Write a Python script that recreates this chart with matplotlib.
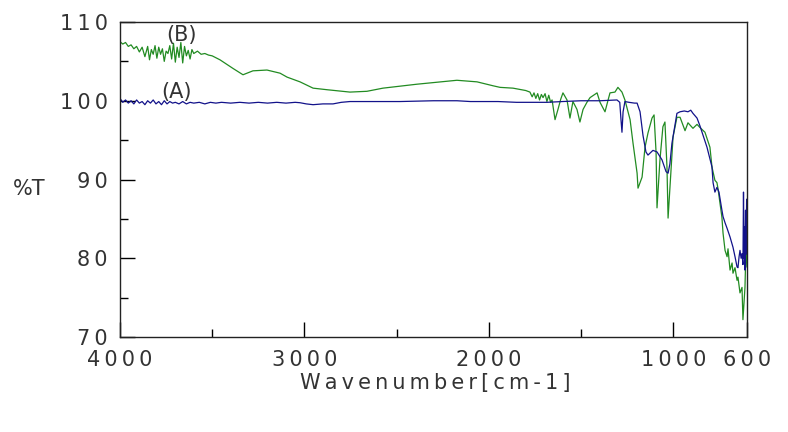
import matplotlib
matplotlib.use('Agg')
from matplotlib import pyplot as plt
from matplotlib.ticker import MultipleLocator

# spectrum (B), green
wn_b = [4000, 3985, 3970, 3955, 3940, 3925, 3910, 3895, 3880, 3865,
        3850, 3840, 3830, 3820, 3810, 3800, 3790, 3780, 3770, 3760,
        3750, 3740, 3730, 3720, 3710, 3700, 3690, 3680, 3670, 3660,
        3650, 3640, 3630, 3620, 3610, 3600, 3580, 3560, 3540, 3520,
        3500, 3458, 3387, 3333, 3279, 3203, 3132, 3094, 3024, 2953,
        2877, 2753, 2661, 2574, 2390, 2173, 2064, 1977, 1939, 1869,
        1800, 1777, 1765, 1755, 1745, 1735, 1725, 1715, 1706, 1695,
        1685, 1675, 1665, 1657, 1641, 1625, 1610, 1598, 1576, 1560,
        1544, 1522, 1506, 1489, 1468, 1451, 1413, 1397, 1370, 1343,
        1316, 1300, 1278, 1262, 1234, 1218, 1196, 1191, 1169, 1153,
        1137, 1115, 1104, 1093, 1088, 1072, 1056, 1045, 1034, 1028,
        1012, 1001, 980, 963, 936, 920, 893, 871, 855, 828,
        801, 790, 774, 763, 757, 736, 730, 719, 708, 703,
        692, 681, 676, 665, 654, 649, 638, 627, 622, 611,
        605, 600]
t_b = [107.5, 107.2, 107.4, 106.9, 107.1, 106.6, 106.9, 106.2, 106.8, 105.6,
       106.9, 105.2, 106.5, 105.9, 107.0, 105.4, 106.8, 105.9, 106.6, 105.0,
       106.3, 106.0, 107.0, 105.3, 107.3, 104.9, 106.8, 105.5, 107.4, 104.8,
       106.9, 105.7, 106.4, 105.3, 106.5, 106.0, 106.3, 105.9, 106.0, 105.8,
       105.7, 105.2, 104.1, 103.3, 103.8, 103.9, 103.5, 103.0, 102.4, 101.6,
       101.4, 101.1, 101.2, 101.6, 102.1, 102.6, 102.4, 101.9, 101.7, 101.6,
       101.3, 101.1, 100.5, 101.0, 100.3, 100.9, 100.1, 100.8, 100.4, 100.9,
       99.9, 100.7, 99.8, 100.1, 97.6, 98.9, 100.2, 101.0, 100.1, 97.8,
       99.9, 98.9, 97.3, 98.9, 99.8, 100.4, 101.0, 99.8, 98.6, 101.0,
       101.1, 101.7, 101.1, 100.1, 97.6, 94.6, 90.8, 88.9, 90.3, 94.1,
       95.9, 97.8, 98.2, 93.4, 86.4, 92.5, 96.7, 97.3, 91.6, 85.1,
       91.2, 95.4, 97.9, 97.9, 96.2, 97.2, 96.5, 97.0, 96.6, 96.0,
       94.1, 91.6, 89.9, 89.6, 88.8, 85.2, 83.2, 81.0, 80.2, 81.2,
       78.5, 79.4, 78.1, 78.8, 77.2, 77.6, 75.6, 76.3, 72.2, 76.3,
       81.9, 78.9]

# spectrum (A), blue
wn_a = [4000, 3985, 3970, 3955, 3940, 3925, 3910, 3895, 3880, 3865,
        3850, 3835, 3820, 3805, 3790, 3775, 3760, 3745, 3730, 3715,
        3700, 3680, 3660, 3640, 3620, 3600, 3570, 3540, 3510, 3480,
        3450, 3400, 3350, 3300, 3250, 3200, 3150, 3100, 3050, 3024,
        2990, 2953, 2900, 2845, 2800, 2753, 2650, 2482, 2300, 2173,
        2100, 2048, 1950, 1850, 1750, 1685, 1600, 1500, 1397, 1305,
        1290, 1283, 1278, 1272, 1262, 1240, 1210, 1196, 1180, 1164,
        1148, 1137, 1110, 1088, 1061, 1039, 1028, 1018, 1007, 980,
        963, 940, 920, 905, 893, 871, 855, 817, 790, 784,
        774, 763, 752, 736, 730, 719, 708, 692, 676, 665,
        654, 649, 643, 638, 632, 627, 622, 619, 616, 613,
        611, 608, 605, 602, 600]
t_a = [100.3, 99.8, 100.1, 99.7, 100.0, 99.6, 100.1, 99.7, 99.9, 99.5,
       100.0, 99.7, 100.1, 99.6, 99.9, 99.5, 100.0, 99.6, 99.9, 99.7,
       99.8, 99.6, 99.9, 99.6, 99.8, 99.7, 99.8, 99.6, 99.8, 99.7,
       99.8, 99.7, 99.8, 99.7, 99.8, 99.7, 99.8, 99.7, 99.8, 99.75,
       99.6, 99.5, 99.6, 99.6, 99.8, 99.9, 99.9, 99.9, 100.0, 100.0,
       99.9, 99.9, 99.9, 99.8, 99.8, 99.8, 99.9, 100.0, 100.0, 100.1,
       99.8, 97.5, 96.0, 98.6, 99.9, 99.8, 99.7, 99.7, 98.6, 95.6,
       93.5, 93.1, 93.7, 93.5, 92.5, 91.0, 90.8, 92.0, 94.6, 98.4,
       98.6, 98.7, 98.6, 98.8, 98.4, 97.8, 96.8, 94.1, 91.6, 89.6,
       88.4, 89.0, 88.4, 86.1, 85.3, 84.5, 83.8, 82.7, 81.4, 80.2,
       78.9, 78.8, 80.2, 81.0, 80.0, 80.6, 79.2, 88.4, 80.0, 84.0,
       78.5, 86.1, 80.5, 87.5, 81.0]

x_ticks = [4000, 3000, 2000, 1000, 600]
y_ticks = [70, 80, 90, 100, 110]

green = '#228b22'
blue = '#12128a'
text_c = '#333333'
TS = '\u2009'  # thin space, the reference font is widely tracked


def spaced(s):
    return TS.join(s)


fig = plt.figure(figsize=(7.88, 4.32), dpi=100)
ax = fig.add_axes([120/788, 1 - 337/432, 627/788, 315/432])

ax.plot(wn_b, t_b, c=green, lw=0.9)
ax.plot(wn_a, t_a, c=blue, lw=0.9)

ax.set_xlim(4000, 600)
ax.set_ylim(70, 110)
ax.set_xticks(x_ticks)
ax.set_xticklabels([spaced(str(v)) for v in x_ticks])
ax.xaxis.set_minor_locator(MultipleLocator(500))
ax.set_yticks(y_ticks)
ax.set_yticklabels([spaced(str(v)) for v in y_ticks])
ax.yaxis.set_minor_locator(MultipleLocator(5))
ax.tick_params(axis='both', which='major', direction='in', length=11,
               width=1, labelsize=15, labelcolor=text_c)
ax.tick_params(axis='x', which='major', pad=9)
ax.tick_params(axis='y', which='major', pad=9)
ax.tick_params(axis='both', which='minor', direction='in', length=6, width=1)
ax.tick_params(axis='x', which='both', top=False)
ax.tick_params(axis='y', which='both', right=False)
for s in ax.spines.values():
    s.set_color('#222222')
    s.set_linewidth(1)

ax.text(3696, 101.1, '(A)', fontsize=15, color=text_c,
        ha='center', va='center')
ax.text(3664, 108.3, '(B)', fontsize=15, color=text_c,
        ha='center', va='center')

fig.text(29/788, 1 - 189/432, '%T', fontsize=15, color=text_c,
         ha='center', va='center')
fig.text(435/788, 1 - 383/432, spaced('Wavenumber[cm-1]'), fontsize=15,
         color=text_c, ha='center', va='center')

fig.savefig('out.png', dpi=100)
